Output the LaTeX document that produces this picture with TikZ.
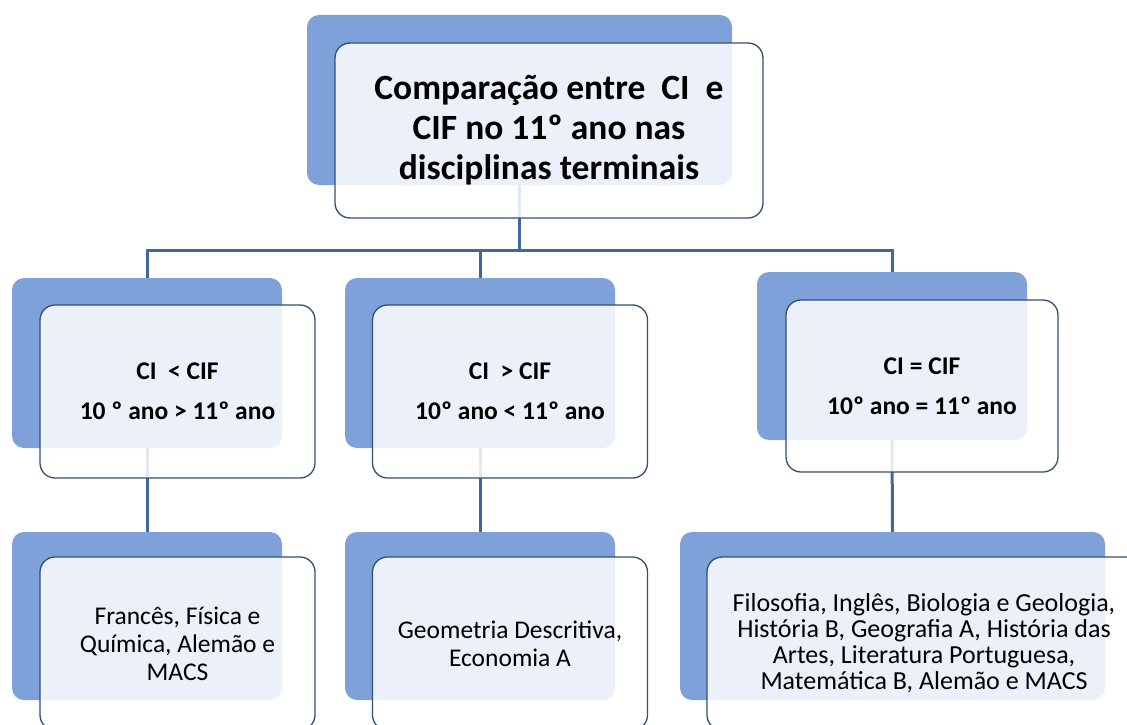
\documentclass[tikz,border=0pt]{standalone}
\usepackage{fontspec}
\setmainfont{Carlito}
\definecolor{backblue}{HTML}{7DA1D8}
\definecolor{edgenavy}{HTML}{34506F}
\definecolor{linkblue}{HTML}{41679C}

\begin{document}
\begin{tikzpicture}[x=1pt, y=-1pt,
  backbox/.style={rounded corners=12pt, fill=backblue, inner sep=0pt, minimum width=270pt, minimum height=170pt},
  frontbox/.style={draw=edgenavy, line width=1.3pt, rounded corners=15pt, fill=white, fill opacity=0.85, text opacity=1, align=center, inner sep=0pt, minimum width=275pt, minimum height=173pt},
  head/.style={font=\fontsize{25.5}{40}\selectfont\bfseries},
  list/.style={font=\fontsize{25.5}{28}\selectfont},
  link/.style={draw=linkblue, line width=3pt}]
  \clip (0,0) rectangle (1127,725);
  \node[backbox, minimum width=425pt] (topback) at (519.5,100) {};
  \node[backbox] (lback) at (147,363) {};
  \node[backbox] (mback) at (480,363) {};
  \node[backbox, minimum height=168pt] (rback) at (892,356) {};
  \node[backbox, minimum height=168pt] (lbotback) at (147,616) {};
  \node[backbox, minimum height=168pt] (mbotback) at (480,616) {};
  \node[backbox, minimum width=425pt, minimum height=168pt] (rbotback) at (892.5,616) {};
  \draw[link] (topback.south) -- ++(0,65) coordinate (fork) -| (lback.north);
  \draw[link] (fork) -| (mback.north);
  \draw[link] (fork) -| (rback.north);
  \draw[link] (lback.south) -- (lbotback.north);
  \draw[link] (mback.south) -- (mbotback.north);
  \draw[link] (rback.south) -- (rbotback.north);
  \node[frontbox, minimum width=428pt, minimum height=175pt, font=\fontsize{35.5}{40}\selectfont\bfseries] (top) at (549,130.5) {Comparação entre\ \ CI\ \ e\\CIF no 11º ano nas\\disciplinas terminais};
  \node[frontbox, head] (lmid) at (177.5,391.5) {CI\ \ < CIF\\10 º ano > 11º ano};
  \node[frontbox, head] (mmid) at (510,391.5) {CI\ \ > CIF\\10º ano < 11º ano};
  \node[frontbox, head, minimum width=272pt, minimum height=172pt] (rmid) at (922,386) {CI = CIF\\10º ano = 11º ano};
  \node[frontbox, list] (lbot) at (177.5,643.5) {Francês, Física e\\Química, Alemão e\\MACS};
  \node[frontbox, list] (mbot) at (510,643.5) {Geometria Descritiva,\\Economia A};
  \node[frontbox, font=\fontsize{26}{26}\selectfont, minimum width=434pt] (rbot) at (924,643.5) {Filosofia, Inglês, Biologia e Geologia,\\História B, Geografia A, História das\\Artes, Literatura Portuguesa,\\Matemática B, Alemão e MACS};
\end{tikzpicture}
\end{document}
